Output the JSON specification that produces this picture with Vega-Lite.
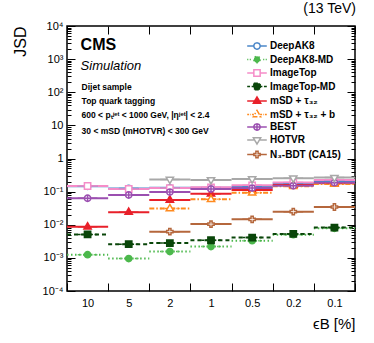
{
  "$schema": "https://vega.github.io/schema/vega-lite/v6.json",
  "width": 288,
  "height": 265,
  "autosize": {"type": "none"},
  "padding": {"left": 67, "top": 26, "right": 19, "bottom": 52},
  "background": "white",
  "title": {"text": "(13 TeV)", "anchor": "end", "fontSize": 14, "fontWeight": "normal", "font": "Liberation Sans", "offset": 4, "color": "black"},
  "config": {
    "view": {"stroke": "black", "strokeWidth": 1.5},
    "font": "Liberation Sans",
    "axis": {"tickColor": "black", "labelColor": "black", "titleColor": "black", "grid": false},
    "legend": {"orient": "top-right", "offset": 14, "padding": 0, "labelFontSize": 10, "labelFontWeight": "bold", "labelFont": "Liberation Sans", "labelColor": "black", "rowPadding": -0.5, "symbolStrokeWidth": 1.5, "labelOffset": 7}
  },
  "datasets": {
    "jsd": [
      {"s": "DeepAK8", "eb": "10", "jsd": 0.145}, {"s": "DeepAK8", "eb": "5", "jsd": 0.125}, {"s": "DeepAK8", "eb": "2", "jsd": 0.13}, {"s": "DeepAK8", "eb": "1", "jsd": 0.13}, {"s": "DeepAK8", "eb": "0.5", "jsd": 0.14}, {"s": "DeepAK8", "eb": "0.2", "jsd": 0.175}, {"s": "DeepAK8", "eb": "0.1", "jsd": 0.21},
      {"s": "DeepAK8-MD", "eb": "10", "jsd": 0.00125}, {"s": "DeepAK8-MD", "eb": "5", "jsd": 0.00095}, {"s": "DeepAK8-MD", "eb": "2", "jsd": 0.00155}, {"s": "DeepAK8-MD", "eb": "1", "jsd": 0.0022}, {"s": "DeepAK8-MD", "eb": "0.5", "jsd": 0.0033}, {"s": "DeepAK8-MD", "eb": "0.2", "jsd": 0.005}, {"s": "DeepAK8-MD", "eb": "0.1", "jsd": 0.0078},
      {"s": "ImageTop", "eb": "10", "jsd": 0.148}, {"s": "ImageTop", "eb": "5", "jsd": 0.12}, {"s": "ImageTop", "eb": "2", "jsd": 0.128}, {"s": "ImageTop", "eb": "1", "jsd": 0.135}, {"s": "ImageTop", "eb": "0.5", "jsd": 0.155}, {"s": "ImageTop", "eb": "0.2", "jsd": 0.19}, {"s": "ImageTop", "eb": "0.1", "jsd": 0.225},
      {"s": "ImageTop-MD", "eb": "10", "jsd": 0.0051}, {"s": "ImageTop-MD", "eb": "5", "jsd": 0.0026}, {"s": "ImageTop-MD", "eb": "2", "jsd": 0.0028}, {"s": "ImageTop-MD", "eb": "1", "jsd": 0.0034}, {"s": "ImageTop-MD", "eb": "0.5", "jsd": 0.0041}, {"s": "ImageTop-MD", "eb": "0.2", "jsd": 0.0053}, {"s": "ImageTop-MD", "eb": "0.1", "jsd": 0.0082},
      {"s": "mSD + τ₃₂", "eb": "10", "jsd": 0.0087}, {"s": "mSD + τ₃₂", "eb": "5", "jsd": 0.024}, {"s": "mSD + τ₃₂", "eb": "2", "jsd": 0.056}, {"s": "mSD + τ₃₂", "eb": "1", "jsd": 0.086}, {"s": "mSD + τ₃₂", "eb": "0.5", "jsd": 0.112}, {"s": "mSD + τ₃₂", "eb": "0.2", "jsd": 0.158}, {"s": "mSD + τ₃₂", "eb": "0.1", "jsd": 0.178},
      {"s": "mSD + τ₃₂ + b", "eb": "2", "jsd": 0.031}, {"s": "mSD + τ₃₂ + b", "eb": "1", "jsd": 0.059}, {"s": "mSD + τ₃₂ + b", "eb": "0.5", "jsd": 0.092}, {"s": "mSD + τ₃₂ + b", "eb": "0.2", "jsd": 0.145}, {"s": "mSD + τ₃₂ + b", "eb": "0.1", "jsd": 0.17},
      {"s": "BEST", "eb": "10", "jsd": 0.063}, {"s": "BEST", "eb": "5", "jsd": 0.079}, {"s": "BEST", "eb": "2", "jsd": 0.097}, {"s": "BEST", "eb": "1", "jsd": 0.12}, {"s": "BEST", "eb": "0.5", "jsd": 0.128}, {"s": "BEST", "eb": "0.2", "jsd": 0.15}, {"s": "BEST", "eb": "0.1", "jsd": 0.186},
      {"s": "HOTVR", "eb": "2", "jsd": 0.233}, {"s": "HOTVR", "eb": "1", "jsd": 0.226}, {"s": "HOTVR", "eb": "0.5", "jsd": 0.24}, {"s": "HOTVR", "eb": "0.2", "jsd": 0.255}, {"s": "HOTVR", "eb": "0.1", "jsd": 0.265},
      {"s": "N₃-BDT (CA15)", "eb": "2", "jsd": 0.0062}, {"s": "N₃-BDT (CA15)", "eb": "1", "jsd": 0.0105}, {"s": "N₃-BDT (CA15)", "eb": "0.5", "jsd": 0.0146}, {"s": "N₃-BDT (CA15)", "eb": "0.2", "jsd": 0.0248}, {"s": "N₃-BDT (CA15)", "eb": "0.1", "jsd": 0.0344}
    ]
  },
  "layer": [
    {
      "data": {"name": "jsd"},
      "mark": {"type": "rule", "strokeWidth": 2},
      "encoding": {
        "x": {"field": "eb", "type": "nominal", "bandPosition": 0, "sort": ["10", "5", "2", "1", "0.5", "0.2", "0.1"],
          "scale": {"type": "band", "paddingInner": 0, "paddingOuter": 0},
          "axis": {"orient": "bottom", "tickBand": "extent", "tickSize": -8, "tickWidth": 1, "labelPadding": 14, "labelFontSize": 11, "labelAngle": 0, "domain": false,
            "title": "ϵB [%]", "titleAnchor": "end", "titleFontSize": 15, "titleFontWeight": "normal", "titlePadding": 8}},
        "x2": {"field": "eb", "bandPosition": 1},
        "y": {"field": "jsd", "type": "quantitative",
          "scale": {"type": "log", "domain": [0.0001, 10000]},
          "axis": {"orient": "left", "values": [0.0001, 0.001, 0.01, 0.1, 1, 10, 100, 1000, 10000], "tickSize": -8, "labelPadding": 12, "labelFontSize": 11, "domain": false,
            "labelExpr": "datum.value >= 9999 ? '10⁴' : datum.value >= 999 ? '10³' : datum.value >= 99 ? '10²' : datum.value >= 9 ? '10' : datum.value >= 0.9 ? '1' : datum.value >= 0.09 ? '10⁻¹' : datum.value >= 0.009 ? '10⁻²' : datum.value >= 0.0009 ? '10⁻³' : '10⁻⁴'",
            "title": "JSD", "titleAnchor": "end", "titleFontSize": 16, "titleFontWeight": "normal", "titlePadding": 14}},
        "stroke": {"field": "s", "type": "nominal",
          "scale": {"domain": ["DeepAK8", "DeepAK8-MD", "ImageTop", "ImageTop-MD", "mSD + τ₃₂", "mSD + τ₃₂ + b", "BEST", "HOTVR", "N₃-BDT (CA15)"],
            "range": ["#4a86c8", "#4cb84c", "#f58cc8", "#0a460a", "#e8202a", "#ff8a1e", "#9b4fb0", "#a8a8a8", "#b5673c"]},
          "legend": {"title": null}},
        "strokeDash": {"field": "s", "type": "nominal",
          "scale": {"domain": ["DeepAK8", "DeepAK8-MD", "ImageTop", "ImageTop-MD", "mSD + τ₃₂", "mSD + τ₃₂ + b", "BEST", "HOTVR", "N₃-BDT (CA15)"],
            "range": [[1, 0], [1.5, 2.5], [1, 0], [4, 3], [1, 0], [5, 2, 1.5, 2], [1, 0], [1, 0], [1, 0]]},
          "legend": null}
      }
    },
    {
      "data": {"name": "jsd"},
      "mark": {"type": "point", "size": 100, "strokeWidth": 1.5, "opacity": 1},
      "encoding": {
        "x": {"field": "eb", "type": "nominal", "sort": ["10", "5", "2", "1", "0.5", "0.2", "0.1"],
          "axis": {"orient": "top", "tickBand": "extent", "tickSize": -8, "labels": false, "domain": false, "title": null}},
        "y": {"field": "jsd", "type": "quantitative",
          "axis": {"orient": "left", "values": [0.0002, 0.0003, 0.0004, 0.0005, 0.0006, 0.0007, 0.0008, 0.0009, 0.002, 0.003, 0.004, 0.005, 0.006, 0.007, 0.008, 0.009, 0.02, 0.03, 0.04, 0.05, 0.06, 0.07, 0.08, 0.09, 0.2, 0.3, 0.4, 0.5, 0.6, 0.7, 0.8, 0.9, 2, 3, 4, 5, 6, 7, 8, 9, 20, 30, 40, 50, 60, 70, 80, 90, 200, 300, 400, 500, 600, 700, 800, 900, 2000, 3000, 4000, 5000, 6000, 7000, 8000, 9000],
            "tickSize": -4, "labels": false, "domain": false, "title": null}},
        "stroke": {"field": "s", "type": "nominal", "legend": {"title": null}},
        "fill": {"field": "s", "type": "nominal",
          "scale": {"domain": ["DeepAK8", "DeepAK8-MD", "ImageTop", "ImageTop-MD", "mSD + τ₃₂", "mSD + τ₃₂ + b", "BEST", "HOTVR", "N₃-BDT (CA15)"],
            "range": ["white", "#4cb84c", "white", "#0a460a", "#e8202a", "white", "white", "white", "white"]},
          "legend": {"title": null}},
        "shape": {"field": "s", "type": "nominal",
          "scale": {"domain": ["DeepAK8", "DeepAK8-MD", "ImageTop", "ImageTop-MD", "mSD + τ₃₂", "mSD + τ₃₂ + b", "BEST", "HOTVR", "N₃-BDT (CA15)"],
            "range": [
              "M-1.96,0H-0.63M0.63,0H1.96M0.63,0A0.63,0.63,0,1,1,-0.63,0A0.63,0.63,0,1,1,0.63,0Z",
              "M-1.96,0H-1.74M-1.45,0H-1.23M1.23,0H1.45M1.74,0H1.96M0.63,0A0.63,0.63,0,1,1,-0.63,0A0.63,0.63,0,1,1,0.63,0Z",
              "M-1.96,0H-0.63M0.63,0H1.96M-0.63,-0.63H0.63V0.63H-0.63Z",
              "M-1.96,0H-1.39M-1.07,0H-0.63M0.63,0H1.07M1.39,0H1.96M-0.63,-0.63H0.63V0.63H-0.63Z",
              "M-1.96,0H1.96M0,-0.82L0.73,0.44H-0.73Z",
              "M-1.96,0H-1.58M-1.36,0H-1.23M-1.01,0H-0.63M0.63,0H1.01M1.23,0H1.36M1.58,0H1.96M0,-0.82L0.73,0.44H-0.73Z",
              "M-1.96,0H-0.63M0.63,0H1.96M0.63,0A0.63,0.63,0,1,1,-0.63,0A0.63,0.63,0,1,1,0.63,0ZM-0.63,0H0.63M0,-0.63V0.63",
              "M-1.96,0H-0.63M0.63,0H1.96M0,0.82L0.73,-0.44H-0.73Z",
              "M-1.96,0H-0.63M0.63,0H1.96M-0.22,-0.63H0.22V-0.22H0.63V0.22H0.22V0.63H-0.22V0.22H-0.63V-0.22H-0.22Z"
            ]},
          "legend": {"title": null}}
      }
    },
    {
      "data": {"values": [{}]},
      "mark": {"type": "text", "text": "CMS", "font": "Liberation Sans", "fontSize": 16, "fontWeight": "bold", "align": "left", "baseline": "middle", "dx": -7},
      "encoding": {
        "x": {"datum": "10", "type": "nominal", "axis": null},
        "y": {"datum": 2670, "type": "quantitative",
          "axis": {"orient": "right", "values": [0.0001, 0.001, 0.01, 0.1, 1, 10, 100, 1000, 10000], "tickSize": -8, "labels": false, "domain": false, "title": null}}
      }
    },
    {
      "data": {"values": [{}]},
      "mark": {"type": "text", "text": "Simulation", "font": "Liberation Sans", "fontSize": 13, "fontStyle": "italic", "align": "left", "baseline": "middle", "dx": -7},
      "encoding": {
        "x": {"datum": "10", "type": "nominal", "axis": null},
        "y": {"datum": 620, "type": "quantitative",
          "axis": {"orient": "right", "values": [0.0002, 0.0003, 0.0004, 0.0005, 0.0006, 0.0007, 0.0008, 0.0009, 0.002, 0.003, 0.004, 0.005, 0.006, 0.007, 0.008, 0.009, 0.02, 0.03, 0.04, 0.05, 0.06, 0.07, 0.08, 0.09, 0.2, 0.3, 0.4, 0.5, 0.6, 0.7, 0.8, 0.9, 2, 3, 4, 5, 6, 7, 8, 9, 20, 30, 40, 50, 60, 70, 80, 90, 200, 300, 400, 500, 600, 700, 800, 900, 2000, 3000, 4000, 5000, 6000, 7000, 8000, 9000],
            "tickSize": -4, "labels": false, "domain": false, "title": null}}
      }
    },
    {
      "data": {"values": [{}]},
      "mark": {"type": "text", "text": "Dijet sample", "font": "Liberation Sans", "fontSize": 8.5, "fontWeight": "bold", "align": "left", "baseline": "middle", "dx": -6},
      "encoding": {"x": {"datum": "10", "type": "nominal", "axis": null}, "y": {"datum": 144, "type": "quantitative", "axis": null}}
    },
    {
      "data": {"values": [{}]},
      "mark": {"type": "text", "text": "Top quark tagging", "font": "Liberation Sans", "fontSize": 8.5, "fontWeight": "bold", "align": "left", "baseline": "middle", "dx": -6},
      "encoding": {"x": {"datum": "10", "type": "nominal", "axis": null}, "y": {"datum": 52.6, "type": "quantitative", "axis": null}}
    },
    {
      "data": {"values": [{}]},
      "mark": {"type": "text", "text": "600 < pₜʲᵉᵗ < 1000 GeV, |ηʲᵉᵗ| < 2.4", "font": "Liberation Sans", "fontSize": 8.5, "fontWeight": "bold", "align": "left", "baseline": "middle", "dx": -6},
      "encoding": {"x": {"datum": "10", "type": "nominal", "axis": null}, "y": {"datum": 19.9, "type": "quantitative", "axis": null}}
    },
    {
      "data": {"values": [{}]},
      "mark": {"type": "text", "text": "30 < mSD (mHOTVR) < 300 GeV", "font": "Liberation Sans", "fontSize": 8.5, "fontWeight": "bold", "align": "left", "baseline": "middle", "dx": -6},
      "encoding": {"x": {"datum": "10", "type": "nominal", "axis": null}, "y": {"datum": 6.76, "type": "quantitative", "axis": null}}
    }
  ],
  "resolve": {"axis": {"x": "independent", "y": "independent"}}
}
